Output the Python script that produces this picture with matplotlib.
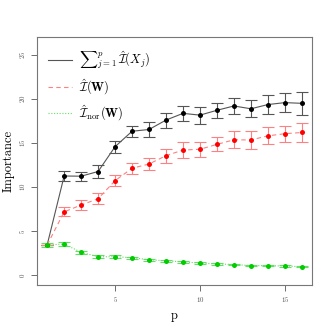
import matplotlib

matplotlib.use("Agg")
import matplotlib.pyplot as plt
import numpy as np

plt.rcParams["mathtext.fontset"] = "cm"
plt.rcParams["font.family"] = ["cmr10", "DejaVu Serif"]
plt.rcParams["axes.formatter.use_mathtext"] = True

# Data
p = np.arange(1, 17)

sum_imp = [3.45, 11.27, 11.25, 11.78, 14.6, 16.35, 16.55, 17.62,
           18.38, 18.18, 18.73, 19.22, 18.9, 19.38, 19.6, 19.52]
sum_err = [0.0, 0.55, 0.5, 0.7, 0.7, 0.65, 0.8, 0.85,
           0.87, 0.97, 0.87, 0.9, 0.98, 1.1, 1.08, 1.27]

w_imp = [3.45, 7.2, 7.98, 8.69, 10.74, 12.15, 12.63, 13.58,
         14.22, 14.3, 14.86, 15.38, 15.36, 15.83, 16.07, 16.21]
w_err = [0.0, 0.5, 0.55, 0.65, 0.6, 0.65, 0.7, 0.8,
         0.87, 0.85, 0.8, 0.95, 1.0, 0.95, 0.9, 1.13]

nor_imp = [3.44, 3.55, 2.61, 2.11, 2.11, 2.0, 1.77, 1.64,
           1.53, 1.38, 1.29, 1.22, 1.1, 1.09, 1.05, 0.98]
nor_err = [0.22, 0.2, 0.18, 0.15, 0.14, 0.13, 0.12, 0.11,
           0.1, 0.1, 0.1, 0.1, 0.09, 0.09, 0.09, 0.09]

x_ticks = [5, 10, 15]
y_ticks = [0, 5, 10, 15, 20, 25]

fig = plt.figure(figsize=(3.32, 3.32), dpi=100)
ax = fig.add_axes([0.1114, 0.1416, 0.8284, 0.747])

series = [
    (sum_imp, sum_err, "#555555", "black", "-", r"$\sum{}_{j=1}^{p}\,\hat{\mathcal{I}}(X_j)$"),
    (w_imp, w_err, "#ff8080", "red", (0, (4, 3)), r"$\hat{\mathcal{I}}(\mathbf{W})$"),
    (nor_imp, nor_err, "#66dd66", "#00cc00", (0, (1, 1.5)), r"$\hat{\mathcal{I}}_{\mathrm{nor}}(\mathbf{W})$"),
]

handles = []
for vals, errs, lc, mc, ls, label in series:
    (h,) = ax.plot(p, vals, color=lc, linestyle=ls, linewidth=0.8, label=label)
    ax.errorbar(p, vals, yerr=errs, fmt="none", ecolor=lc, elinewidth=0.8,
                capsize=4, capthick=0.8)
    ax.plot(p, vals, linestyle="none", marker="o", markersize=3.6,
            color=mc, markeredgewidth=0)
    handles.append(h)

ax.legend(handles=handles, loc="upper left", frameon=False, fontsize=9,
          handlelength=1.9, handletextpad=0.6, labelspacing=0.5,
          borderaxespad=0.5, bbox_to_anchor=(0.0, 0.995))

ax.set_xlim(0.4, 16.6)
ax.set_ylim(-1.1, 27.05)
ax.set_xticks(x_ticks)
ax.set_yticks(y_ticks)
ax.tick_params(axis="both", labelsize=5, colors="#555555", length=4, width=0.6)
for label in ax.get_yticklabels():
    label.set_rotation(90)
    label.set_va("center")
for spine in ax.spines.values():
    spine.set_color("#777777")
    spine.set_linewidth(0.8)

ax.set_xlabel("p", fontsize=9, labelpad=4)
ax.set_ylabel("Importance", fontsize=9, labelpad=2)

fig.savefig("out.png", dpi=100)
